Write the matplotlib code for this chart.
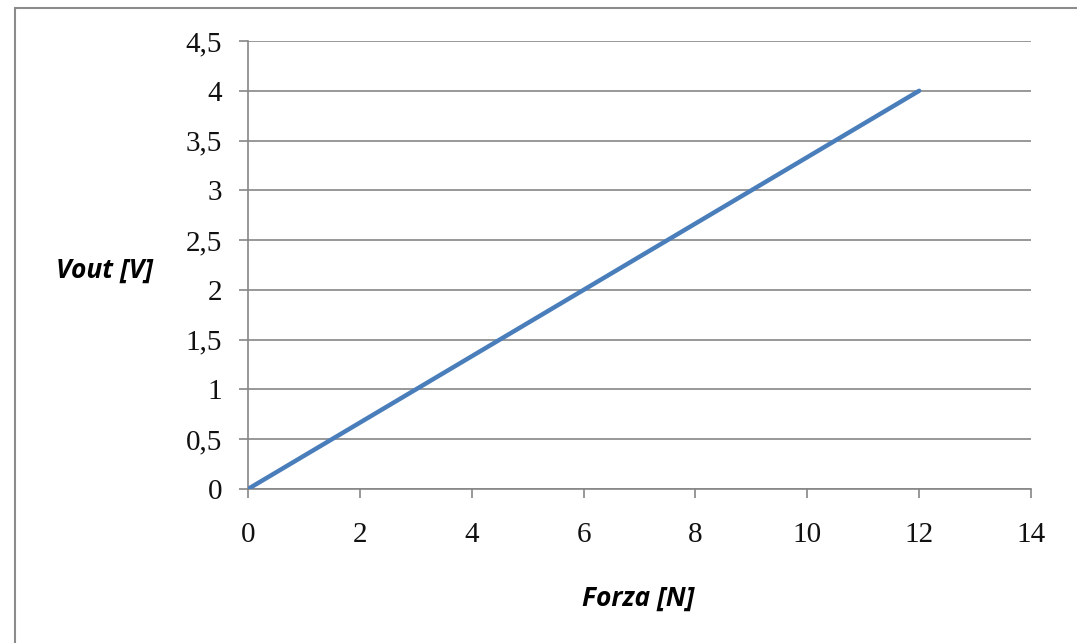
import matplotlib
matplotlib.use("Agg")
import matplotlib.pyplot as plt
from matplotlib.patches import Rectangle
from matplotlib.ticker import MultipleLocator, FuncFormatter

# data
forza = [0, 3, 6, 9, 12]
vout = [0, 1, 2, 3, 4]

x_label = "Forza [N]"
y_label = "Vout [V]"

fig = plt.figure(figsize=(10.77, 6.43), dpi=100)
fig.patch.set_facecolor("white")
# outer chart border (right/bottom edges run off the picture)
fig.patches.append(Rectangle((15 / 1077, -0.05), 1.1, 1 - 8 / 643 + 0.05,
                             transform=fig.transFigure, fill=False,
                             edgecolor="#8c8c8c", linewidth=1.5))

ax = fig.add_axes([0.2303, 0.2395, 0.727, 0.6967])
ax.plot(forza, vout, color="#4a7ebb", linewidth=3.2, solid_capstyle="round", zorder=3)

ax.set_xlim(0, 14)
ax.set_ylim(0, 4.5)
ax.xaxis.set_major_locator(MultipleLocator(2))
ax.yaxis.set_major_locator(MultipleLocator(0.5))
ax.yaxis.set_major_formatter(FuncFormatter(lambda v, p: f"{v:g}".replace(".", ",")))

ax.grid(True, axis="y", color="#868686", linewidth=1.2)
for s in ["top", "right"]:
    ax.spines[s].set_visible(False)
for s in ["left", "bottom"]:
    ax.spines[s].set_color("#868686")
    ax.spines[s].set_linewidth(1.2)
ax.tick_params(axis="both", direction="out", length=6.5, width=1.2, color="#868686",
               labelsize=21, labelcolor="#111111")
ax.tick_params(axis="y", pad=12)
ax.tick_params(axis="x", pad=17)
for lab in ax.get_xticklabels() + ax.get_yticklabels():
    lab.set_fontfamily("Liberation Serif")

fig.text(105 / 1077, 1 - 270 / 643, y_label, ha="center", va="center",
         fontsize=19, fontweight="bold", fontstyle="italic", family="Open Sans")
fig.text(638 / 1077, 1 - 598 / 643, x_label, ha="center", va="center",
         fontsize=19, fontweight="bold", fontstyle="italic", family="Open Sans")

fig.savefig("out.png", dpi=100)
